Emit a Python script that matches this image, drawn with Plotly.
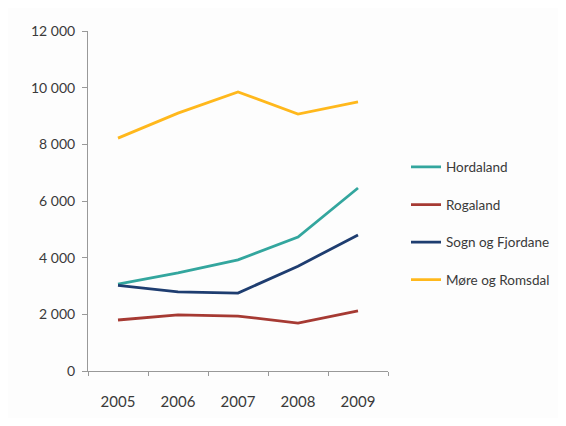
import plotly.graph_objects as go

years = ["2005", "2006", "2007", "2008", "2009"]
series_names = ["Hordaland", "Rogaland", "Sogn og Fjordane", "Møre og Romsdal"]
hordaland = [3070, 3460, 3920, 4730, 6460]
rogaland = [1800, 1980, 1940, 1690, 2120]
sogn_og_fjordane = [3020, 2790, 2750, 3700, 4800]
more_og_romsdal = [8220, 9100, 9850, 9070, 9500]
colors = ["#33A69E", "#A63A33", "#1E3D70", "#FFB81C"]

fig = go.Figure()
for i, (name, vals) in enumerate(zip(series_names, [hordaland, rogaland, sogn_og_fjordane, more_og_romsdal])):
    fig.add_trace(go.Scatter(x=years, y=vals, name=name, mode="lines",
                             line=dict(color=colors[i], width=2.8),
                             legendgroup=f"g{i}"))

fig.update_layout(
    width=550, height=410,
    margin=dict(l=80, r=170, t=23, b=47, autoexpand=False),
    paper_bgcolor="#FDFDFD", plot_bgcolor="#FDFDFD",
    separators=", ",
    font=dict(family="Lato", size=14, color="#3A3A3A"),
    showlegend=True,
    legend=dict(x=1.06, y=0.645, xanchor="left", yanchor="top",
                tracegroupgap=17, traceorder="grouped",
                font=dict(size=13.5, color="#3A3A3A"), itemwidth=30,
                bgcolor="rgba(0,0,0,0)"),
    xaxis=dict(type="category", range=[-0.5, 4.5], showgrid=False, showline=True,
               linecolor="#999999", linewidth=1, ticks="outside", ticklen=4,
               tickcolor="#999999", tickson="boundaries", ticklabelstandoff=17,
               tickfont=dict(size=15), zeroline=False, automargin=False),
    yaxis=dict(range=[0, 12000], tickvals=[0, 2000, 4000, 6000, 8000, 10000, 12000],
               tickformat=",d", showgrid=False, showline=True, linecolor="#999999",
               linewidth=1, ticks="outside", ticklen=5, tickcolor="#999999",
               ticklabelstandoff=4, tickfont=dict(size=14), zeroline=False,
               automargin=False),
)

fig.write_html("out.html")
